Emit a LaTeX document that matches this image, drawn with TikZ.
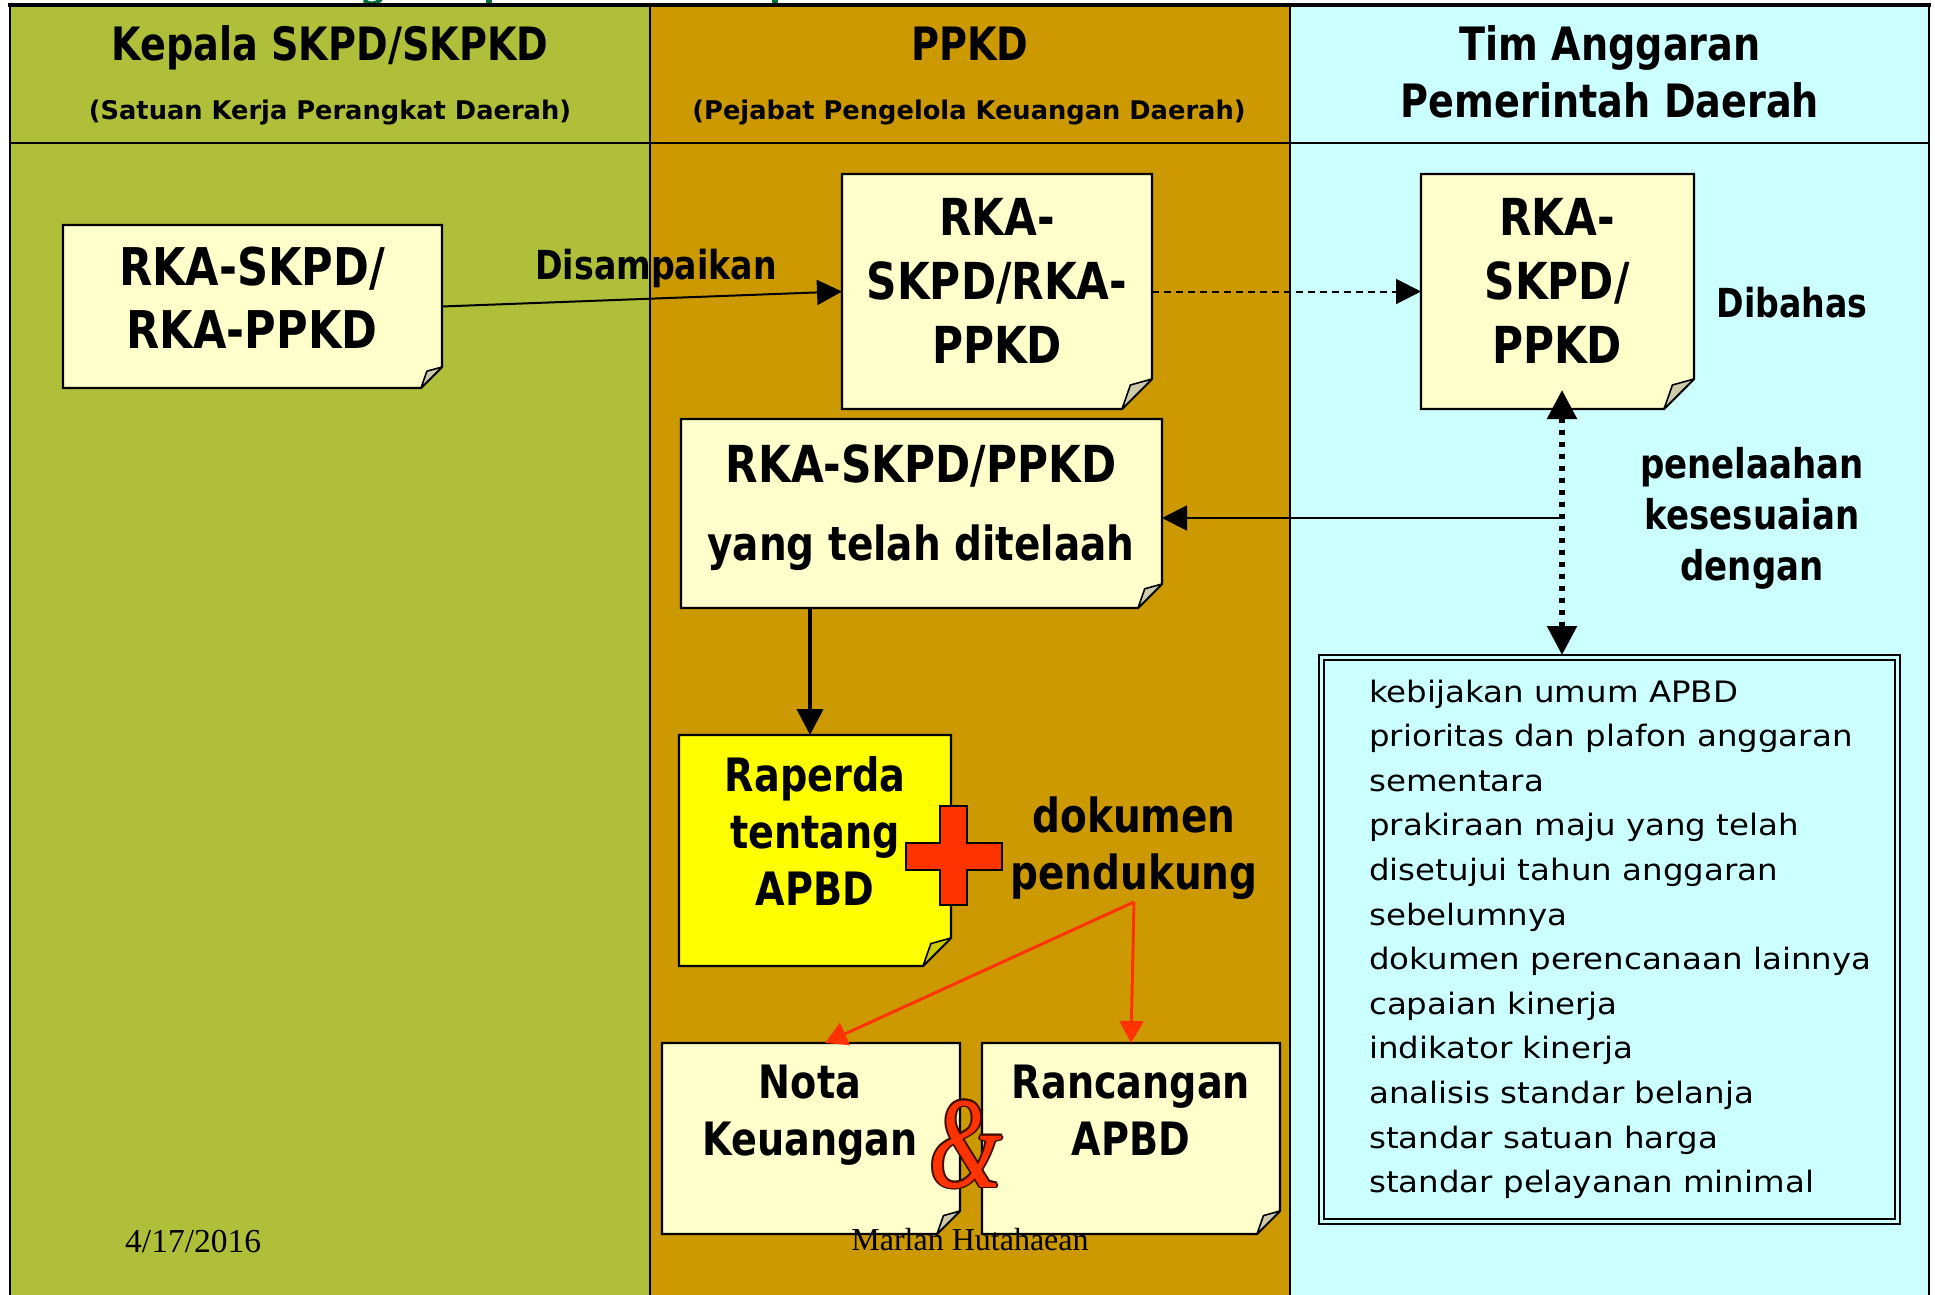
\documentclass[tikz,border=0pt]{standalone}
\usepackage{fontspec}
\usepackage{graphicx}
\setmainfont{DejaVu Sans}
\newfontfamily\boldn{DejaVu Sans}[FakeStretch=0.83]
\newfontfamily\listfont{DejaVu Sans}[FakeStretch=1.1]
\newfontfamily\footfont{Liberation Serif}
\usetikzlibrary{arrows.meta,fit}

\definecolor{colA}{RGB}{175,191,58}
\definecolor{colB}{RGB}{204,153,0}
\definecolor{colC}{RGB}{204,255,255}
\definecolor{notefill}{RGB}{255,255,204}
\definecolor{foldfill}{RGB}{204,204,170}
\definecolor{foldyel}{RGB}{204,204,0}
\definecolor{paperyel}{RGB}{255,255,0}
\definecolor{hot}{RGB}{255,51,0}
\definecolor{titlegreen}{RGB}{0,110,60}

% sticky note with a folded bottom-right corner: node, fold size, paper, fold
\newcommand\notesheet[4]{%
  \filldraw[fill=#3, draw=black, line width=2.3pt, line join=miter]
    (#1.north west) -- (#1.north east) -- ([yshift=#2]#1.south east)
    -- ([xshift=-#2]#1.south east) -- (#1.south west) -- cycle;
  \filldraw[fill=#4, draw=black, line width=1.6pt, line join=round]
    ([yshift=#2]#1.south east) -- ([xshift=-0.72*#2,yshift=0.8*#2]#1.south east)
    -- ([xshift=-#2]#1.south east) -- cycle;
}

\tikzset{
  frame/.style={inner sep=0pt, outer sep=0pt},
  head/.style={font=\boldn\bfseries\fontsize{46}{55}\selectfont, anchor=base, inner sep=0pt},
  subhead/.style={font=\bfseries\fontsize{25.7}{30}\selectfont, anchor=base, inner sep=0pt},
  notetext/.style={font=\boldn\bfseries\fontsize{51}{60}\selectfont, anchor=base, inner sep=0pt},
  midtext/.style={font=\boldn\bfseries\fontsize{46}{55}\selectfont, anchor=base, inner sep=0pt},
  label/.style={font=\boldn\bfseries\fontsize{40}{48}\selectfont, anchor=base, inner sep=0pt},
  listtext/.style={font=\listfont\fontsize{29.5}{35}\selectfont, anchor=base west, inner sep=0pt},
  footer/.style={font=\footfont\fontsize{32}{38}\selectfont, anchor=base, inner sep=0pt},
  amp/.style={font=\footfont\itshape\fontsize{130}{130}\selectfont, anchor=base, inner sep=0pt},
  arr/.style={-{Triangle[length=25pt,width=25pt]}, line width=2pt},
  redarr/.style={-{Triangle[length=22pt,width=24pt]}, line width=3pt, draw=hot},
  dotarr/.style={{Triangle[length=29pt,width=29pt]}-{Triangle[length=29pt,width=29pt]},
                 line width=5.5pt, dash pattern=on 5pt off 7pt},
}

\begin{document}
\begin{tikzpicture}[x=1pt, y=-1pt]
\useasboundingbox (0,0) rectangle (1935,1295);
\fill[white] (0,0) rectangle (1935,1295);

% lower edge of the slide title
\draw[titlegreen, line width=4pt] (364,0) .. controls (368,5) and (376,5) .. (381,-1);
\fill[titlegreen] (486,0) rectangle (492,5);
\fill[titlegreen] (772,0) rectangle (778,5);

% three swimlanes
\fill[colA] (10,5) rectangle (650,1295);
\fill[colB] (650,5) rectangle (1290,1295);
\fill[colC] (1290,5) rectangle (1929,1295);
\draw[line width=3.5pt] (8,5) -- (1931,5);
\draw[line width=2.2pt] (10,5) -- (10,1295);
\draw[line width=2.2pt] (650,5) -- (650,1295);
\draw[line width=2.2pt] (1290,5) -- (1290,1295);
\draw[line width=2.2pt] (1929,5) -- (1929,1295);
\draw[line width=2.2pt] (10,143) -- (1929,143);

% lane headings
\node[head] (h1) at (330,61) {Kepala SKPD/SKPKD};
\node[subhead] (h1s) at (330,120) {(Satuan Kerja Perangkat Daerah)};
\node[head] (h2) at (970,61) {PPKD};
\node[subhead] (h2s) at (969,120) {(Pejabat Pengelola Keuangan Daerah)};
\node[head] (h3) at (1610,61) {Tim Anggaran};
\node[head] (h3b) at (1610,118) {Pemerintah Daerah};

% note frames
\node[frame, fit={(63,225) (442,388)}] (b1) {};
\node[frame, fit={(842,174) (1152,409)}] (b2) {};
\node[frame, fit={(1421,174) (1694,409)}] (b3) {};
\node[frame, fit={(681,419) (1162,608)}] (b4) {};
\node[frame, fit={(679,735) (951,966)}] (b5) {};
\node[frame, fit={(662,1043) (960,1234)}] (b6) {};
\node[frame, fit={(982,1043) (1280,1234)}] (b7) {};
\node[frame, fit={(1319,655) (1900,1224)}] (lst) {};

\notesheet{b1}{21pt}{notefill}{foldfill}
\notesheet{b2}{30pt}{notefill}{foldfill}
\notesheet{b3}{30pt}{notefill}{foldfill}
\notesheet{b4}{24pt}{notefill}{foldfill}
\notesheet{b5}{28pt}{paperyel}{foldyel}
\notesheet{b6}{23pt}{notefill}{foldfill}
\notesheet{b7}{23pt}{notefill}{foldfill}

% double-ruled list frame
\draw[line width=2pt] (lst.north west) rectangle (lst.south east);
\draw[line width=1.5pt] ([xshift=5pt,yshift=-5pt]lst.north west) rectangle ([xshift=-5pt,yshift=5pt]lst.south east);

% connectors
\coordinate (tap) at (1562,518);
\coordinate (vx) at (810,0);
\coordinate (split) at (1134,902);
\draw[arr] (b1.east) -- (b2.west);
\draw[arr, line width=2pt, dash pattern=on 7pt off 5pt] (b2.east) -- (b3.west);
\draw[dotarr, shorten <=-19pt] (b3.south -| tap) -- (lst.north -| tap);
\draw[arr] (tap) -- (tap -| b4.east);
\draw[arr, line width=4pt, -{Triangle[length=26pt,width=26pt]}] (b4.south -| vx) -- (b5.north -| vx);
\draw[redarr] (split) -- ([xshift=14pt]b6.north);
\draw[redarr] (split) -- (b7.north);

% plus sign
\filldraw[fill=hot, draw=black, line width=2pt]
  (940,806) -- (967,806) -- (967,843) -- (1002,843) -- (1002,870) -- (967,870)
  -- (967,905) -- (940,905) -- (940,870) -- (906,870) -- (906,843) -- (940,843) -- cycle;

% note texts
\node[notetext, font=\boldn\bfseries\fontsize{52}{60}\selectfont] (t1a) at (252,285) {RKA-SKPD/};
\node[notetext, font=\boldn\bfseries\fontsize{52}{60}\selectfont] (t1b) at (252,348) {RKA-PPKD};
\node[notetext] (t2a) at (997,235) {RKA-};
\node[notetext] (t2b) at (997,299) {SKPD/RKA-};
\node[notetext] (t2c) at (997,363) {PPKD};
\node[notetext] (t3a) at (1557,235) {RKA-};
\node[notetext] (t3b) at (1557,299) {SKPD/};
\node[notetext] (t3c) at (1557,363) {PPKD};
\node[notetext] (t4a) at (921,482) {RKA-SKPD/PPKD};
\node[notetext, font=\boldn\bfseries\fontsize{47}{55}\selectfont] (t4b) at (921,560) {yang telah ditelaah};
\node[midtext] (t5a) at (815,791) {Raperda};
\node[midtext] (t5b) at (815,848) {tentang};
\node[midtext] (t5c) at (815,905) {APBD};
\node[midtext, font=\boldn\bfseries\fontsize{47}{55}\selectfont] (dk1) at (1134,832) {dokumen};
\node[midtext, font=\boldn\bfseries\fontsize{47}{55}\selectfont] (dk2) at (1134,889) {pendukung};
\node[midtext] (t6a) at (810,1098) {Nota};
\node[midtext] (t6b) at (810,1155) {Keuangan};
\node[midtext] (t7a) at (1131,1098) {Rancangan};
\node[midtext] (t7b) at (1131,1155) {APBD};

% free labels
\node[label] (lbd) at (656,279) {Disampaikan};
\node[label] (lbb) at (1792,317) {Dibahas};
\node[label, font=\boldn\bfseries\fontsize{41}{48}\selectfont] (lp1) at (1752,478) {penelaahan};
\node[label, font=\boldn\bfseries\fontsize{41}{48}\selectfont] (lp2) at (1752,529) {kesesuaian};
\node[label, font=\boldn\bfseries\fontsize{41}{48}\selectfont] (lp3) at (1752,580) {dengan};

% list of reference documents
\foreach \t [count=\i] in {kebijakan umum APBD, prioritas dan plafon anggaran, sementara,
  prakiraan maju yang telah, disetujui tahun anggaran, sebelumnya,
  dokumen perencanaan lainnya, capaian kinerja, indikator kinerja,
  analisis standar belanja, standar satuan harga, standar pelayanan minimal}
  \node[listtext] (li\i) at (1369,{702+44.6*(\i-1)}) {\t};

% outlined ampersand
\foreach \dx/\dy [count=\k] in {1.8/0, -1.8/0, 0/1.8, 0/-1.8, 1.3/1.3, -1.3/1.3, 1.3/-1.3, -1.3/-1.3}
  \node[amp, text=black!75!hot] (ampo\k) at (966+\dx,1187+\dy) {\scalebox{0.72}[1]{\&}};
\node[amp, text=hot] (amp) at (966,1187) {\scalebox{0.72}[1]{\&}};

% footer
\node[footer, anchor=base west, font=\footfont\fontsize{33.5}{38}\selectfont] (date) at (125,1252) {4/17/2016};
\node[footer] (author) at (970,1250) {Marlan Hutahaean};
\end{tikzpicture}
\end{document}
